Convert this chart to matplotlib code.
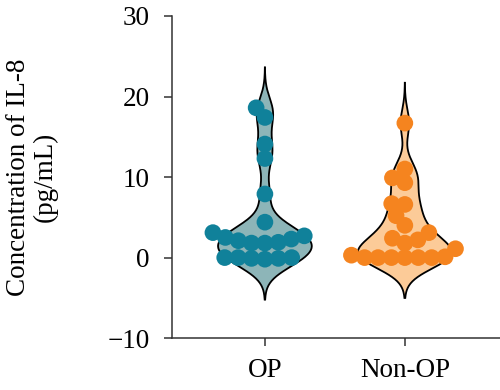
import matplotlib

matplotlib.use("Agg")
import matplotlib.pyplot as plt
import numpy as np
import pandas as pd
import seaborn as sns

GROUPS = ["OP", "Non-OP"]
OP_VALUES = [18.6, 17.4, 14.1, 12.3, 7.9, 4.4, 3.1, 2.7, 2.5, 2.3, 2.1,
             1.9, 1.8, 1.8, 0.0, -0.1, 0.0, -0.2, 0.0, -0.1]
NON_OP_VALUES = [16.7, 11.0, 9.9, 9.3, 6.7, 6.6, 5.2, 4.0, 3.1, 2.4, 2.2,
                 1.8, 1.1, 0.3, 0.0, 0.0, 0.1, 0.0, 0.0, 0.0, 0.0]
Y_TICKS = [-10, 0, 10, 20, 30]

DOT_COLORS = {"OP": "#10819A", "Non-OP": "#F5841F"}
FILL_COLORS = {"OP": "#8DB5B8", "Non-OP": "#FCCB98"}
FONT = "Liberation Serif"
FONTSIZE = 19.5

plt.rcParams["font.family"] = [FONT, "DejaVu Serif"]


def kde_outline(values, bw=1.7, cut=5.0, n=300):
    values = np.asarray(values, dtype=float)
    grid = np.linspace(values.min() - cut, values.max() + cut, n)
    dens = np.exp(-0.5 * ((grid[:, None] - values[None, :]) / bw) ** 2).sum(axis=1)
    return grid, dens / dens.max()


fig = plt.figure(figsize=(5.0, 3.9), dpi=100)
ax = fig.add_axes([0.344, 0.133, 0.656, 0.826])

data = {"OP": OP_VALUES, "Non-OP": NON_OP_VALUES}
half_width = 0.335
for pos, group in enumerate(GROUPS):
    grid, dens = kde_outline(data[group])
    ax.fill_betweenx(grid, pos - dens * half_width, pos + dens * half_width,
                     facecolor=FILL_COLORS[group], edgecolor="none", zorder=1)
    ax.plot(pos - dens * half_width, grid, color="black", lw=1.3, zorder=2)
    ax.plot(pos + dens * half_width, grid, color="black", lw=1.3, zorder=2)

df = pd.DataFrame({
    "group": ["OP"] * len(OP_VALUES) + ["Non-OP"] * len(NON_OP_VALUES),
    "value": OP_VALUES + NON_OP_VALUES,
})
n_before = len(ax.collections)
# swarm is laid out with smaller dots so the drawn ones overlap like the original
sns.swarmplot(data=df, x="group", y="value", hue="group", order=GROUPS,
              palette=DOT_COLORS, size=9.2, linewidth=0, legend=False,
              ax=ax, zorder=3)

ax.set_xlim(-0.664, 1.68)
ax.set_ylim(-10, 30)
fig.canvas.draw()
for coll in ax.collections[n_before:]:
    offsets = np.array(coll.get_offsets())
    if "draw" in coll.__dict__:
        del coll.draw
    coll.set_offsets(offsets)
    coll.set_sizes([12.0 ** 2])

ax.set_yticks(Y_TICKS)
ax.set_xticks(range(len(GROUPS)))
ax.set_xticklabels(GROUPS)
ax.set_xlabel("")
ax.set_ylabel("Concentration of IL-8\n(pg/mL)", fontsize=FONTSIZE,
              labelpad=36, linespacing=1.05)
ax.spines["top"].set_visible(False)
ax.spines["right"].set_visible(False)
for side in ("left", "bottom"):
    ax.spines[side].set_linewidth(1.1)
    ax.spines[side].set_color("#333333")
ax.tick_params(axis="both", labelsize=FONTSIZE, length=6, width=1.1,
               color="#333333", direction="out")
ax.tick_params(axis="y", pad=10)
ax.tick_params(axis="x", pad=8)

fig.savefig("out.png", dpi=100)
